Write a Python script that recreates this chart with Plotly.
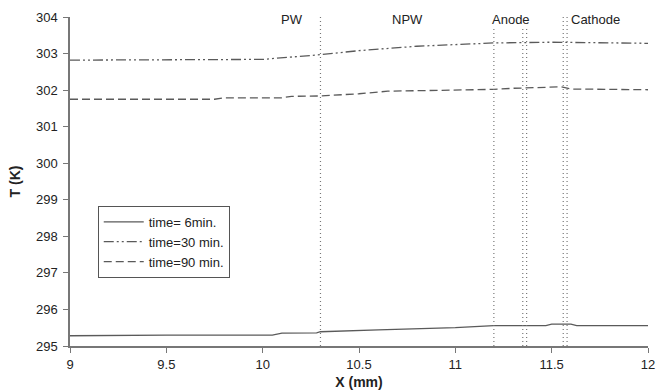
import plotly.graph_objects as go

# Data
x_6 = [9.0, 9.5, 10.05, 10.1, 10.28, 10.3, 10.6, 11.0, 11.2, 11.47, 11.5, 11.6, 11.63, 12.0]
t_6 = [295.28, 295.3, 295.3, 295.35, 295.36, 295.39, 295.44, 295.5, 295.56, 295.56, 295.6, 295.6, 295.56, 295.56]

x_30 = [9.0, 9.5, 10.0, 10.3, 10.5, 10.8, 11.2, 11.5, 11.75, 12.0]
t_30 = [302.82, 302.84, 302.84, 302.97, 303.08, 303.2, 303.29, 303.31, 303.29, 303.28]

x_90 = [9.0, 9.75, 9.8, 10.1, 10.15, 10.3, 10.5, 10.65, 11.2, 11.3, 11.55, 11.6, 12.0]
t_90 = [301.75, 301.75, 301.79, 301.79, 301.83, 301.84, 301.9, 301.97, 302.02, 302.05, 302.09, 302.03, 302.01]

region_lines = [10.3, 11.2, 11.35, 11.37, 11.56, 11.58]
region_labels = ["PW", "NPW", "Anode", "Cathode"]
region_label_x = [10.15, 10.75, 11.29, 11.73]

x_ticks = [9, 9.5, 10, 10.5, 11, 11.5, 12]
y_ticks = [295, 296, 297, 298, 299, 300, 301, 302, 303, 304]

fig = go.Figure()
line_col = "#5a5a5a"
fig.add_trace(go.Scatter(x=x_6, y=t_6, mode="lines", name="time= 6min.",
                         line=dict(color=line_col, width=1.3)))
fig.add_trace(go.Scatter(x=x_30, y=t_30, mode="lines", name="time=30 min.",
                         line=dict(color=line_col, width=1.3, dash="10px,3px,2px,3px,2px,3px")))
fig.add_trace(go.Scatter(x=x_90, y=t_90, mode="lines", name="time=90 min.",
                         line=dict(color=line_col, width=1.3, dash="8px,4px")))

tops = [304.0, 303.7, 303.7, 303.7, 304.0, 304.0]
for xv, top in zip(region_lines, tops):
    fig.add_shape(type="line", x0=xv, x1=xv, y0=295, y1=top, xref="x", yref="y",
                  line=dict(color="#777777", width=1.2, dash="1px,3px"))

for lab, lx in zip(region_labels, region_label_x):
    fig.add_annotation(x=lx, y=303.92, xref="x", yref="y", text=lab, showarrow=False,
                       xanchor="center", yanchor="middle",
                       font=dict(family="Liberation Sans, Arial", size=13, color="#222222"))

fig.update_layout(
    width=658, height=392,
    margin=dict(l=70, r=10, t=17, b=46),
    paper_bgcolor="white", plot_bgcolor="white",
    font=dict(family="Liberation Sans, Arial", size=13, color="#222222"),
    showlegend=True,
    legend=dict(x=0.048, y=0.426, xanchor="left", yanchor="top",
                bordercolor="#555555", borderwidth=1, bgcolor="white",
                font=dict(size=13, color="#222222"),
                tracegroupgap=0, itemwidth=40),
    xaxis=dict(range=[9, 12], tickvals=x_ticks, ticktext=[str(v) for v in x_ticks],
               showgrid=False, zeroline=False, showline=True, linecolor="#777777", linewidth=1.5,
               ticks="outside", ticklen=5, tickcolor="#777777", ticklabelstandoff=1,
               automargin=False,
               title=dict(text="<b>X (mm)</b>", standoff=6, font=dict(size=14))),
    yaxis=dict(range=[295, 304], tickvals=y_ticks, ticktext=[str(v) for v in y_ticks],
               showgrid=False, zeroline=False, showline=True, linecolor="#777777", linewidth=1.5,
               ticks="outside", ticklen=5, tickcolor="#777777", ticklabelstandoff=3,
               automargin=False,
               title=dict(text="<b>T (K)</b>", standoff=12, font=dict(size=14))),
)

fig.write_html("out.html")
